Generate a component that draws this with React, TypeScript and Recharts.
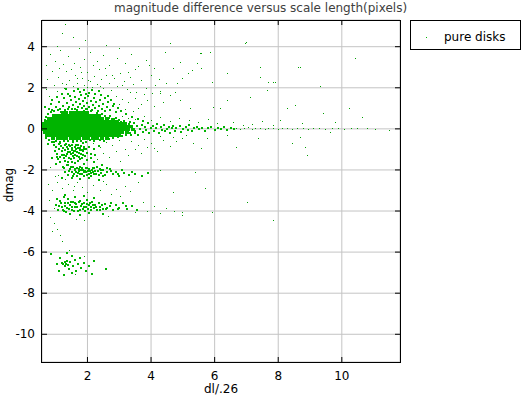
import { ScatterChart, Scatter, XAxis, YAxis, CartesianGrid, Label } from 'recharts';

// plot frame in pixels (layout only)
const PLOT_LEFT = 42;
const PLOT_TOP = 20;
const PLOT_RIGHT = 400;
const PLOT_BOTTOM = 362;

const X_DOMAIN: [number, number] = [0.57, 11.83];
const Y_DOMAIN: [number, number] = [-11.35, 5.3];
const X_TICKS = [2, 4, 6, 8, 10];
const Y_TICKS = [4, 2, 0, -2, -4, -6, -8, -10];

const GREEN = '#00b400';

// dense core near dmag = 0, read as rows
const coreRows: { y: number; xs: number[] }[] = [
  { y: 0.8, xs: [1.22, 1.34, 1.47, 1.6, 1.74, 1.86, 1.98] },
  { y: 0.66, xs: [0.96, 1.07, 1.19, 1.3, 1.41, 1.53, 1.64, 1.76, 1.88, 1.99, 2.11, 2.24, 2.36] },
  { y: 0.52, xs: [0.8, 0.9, 1.01, 1.12, 1.22, 1.33, 1.45, 1.56, 1.67, 1.78, 1.9, 2.01, 2.12, 2.24, 2.35, 2.47, 2.6] },
  { y: 0.38, xs: [0.7, 0.8, 0.9, 1.01, 1.12, 1.23, 1.34, 1.45, 1.56, 1.67, 1.78, 1.89, 2.0, 2.11, 2.22, 2.33, 2.44, 2.55, 2.67, 2.79, 2.92] },
  { y: 0.24, xs: [0.64, 0.74, 0.85, 0.96, 1.06, 1.17, 1.28, 1.39, 1.5, 1.61, 1.72, 1.83, 1.94, 2.05, 2.16, 2.27, 2.38, 2.49, 2.6, 2.71, 2.82, 2.94, 3.06, 3.18] },
  { y: 0.1, xs: [0.62, 0.72, 0.82, 0.93, 1.04, 1.15, 1.26, 1.37, 1.48, 1.59, 1.7, 1.81, 1.92, 2.03, 2.14, 2.25, 2.36, 2.47, 2.58, 2.69, 2.8, 2.91, 3.02, 3.13, 3.25, 3.38] },
  { y: -0.04, xs: [0.62, 0.72, 0.83, 0.94, 1.05, 1.16, 1.27, 1.38, 1.49, 1.6, 1.71, 1.82, 1.93, 2.04, 2.15, 2.26, 2.37, 2.48, 2.59, 2.7, 2.81, 2.92, 3.03, 3.15, 3.28, 3.42] },
  { y: -0.18, xs: [0.65, 0.75, 0.86, 0.97, 1.08, 1.19, 1.3, 1.41, 1.52, 1.63, 1.74, 1.85, 1.96, 2.07, 2.18, 2.29, 2.4, 2.51, 2.62, 2.73, 2.84, 2.96, 3.1, 3.24] },
  { y: -0.32, xs: [0.72, 0.83, 0.94, 1.05, 1.16, 1.27, 1.38, 1.49, 1.6, 1.71, 1.82, 1.93, 2.04, 2.15, 2.26, 2.37, 2.48, 2.6, 2.73, 2.86, 3.0] },
  { y: -0.46, xs: [0.92, 1.06, 1.2, 1.33, 1.47, 1.6, 1.74, 1.88, 2.02, 2.16, 2.3, 2.45, 2.6] },
];

// ragged edge of the core
const coreFringe: [number, number][] = [
  [0.75, 0.7], [0.85, 0.8], [0.95, 0.85], [1.08, 0.9], [1.18, 0.82], [2.1, 0.85], [2.3, 0.75], [2.45, 0.7],
  [2.55, 0.65], [2.68, 0.55], [2.78, 0.48], [2.9, 0.55], [3.05, 0.35], [3.2, 0.3], [3.35, 0.35], [0.7, 0.6],
  [0.65, 0.45], [1.38, 0.95], [1.62, 0.95], [1.9, 0.85], [2.0, 0.95], [0.78, 0.95], [0.68, 1.05], [0.9, 1.4],
  [1.05, 1.55], [1.2, 1.7], [1.32, 1.95], [1.45, 1.6], [1.7, 1.95], [1.95, 1.7], [2.15, 1.9], [2.35, 1.85],
  [2.55, 1.5], [2.65, 1.6], [2.75, 1.4], [2.85, 1.2], [2.95, 1.0], [3.05, 0.85], [3.2, 0.7], [3.4, 0.6],
  [3.6, 0.5], [3.75, 0.4], [0.7, -0.45], [0.8, -0.55], [0.88, -0.62], [1.0, -0.58], [1.13, -0.62], [1.27, -0.55],
  [1.4, -0.6], [1.53, -0.58], [1.67, -0.6], [1.81, -0.58], [1.95, -0.62], [2.08, -0.55], [2.22, -0.6], [2.38, -0.55],
  [2.52, -0.58], [2.68, -0.48], [2.8, -0.45], [2.95, -0.42], [3.1, -0.35], [3.22, -0.3], [3.38, -0.28], [3.5, -0.22],
  [0.75, -0.75], [0.95, -0.8], [1.1, -0.5],
];

const upperLobe: [number, number][] = [
  [1.15, 0.95], [1.22, 1.1], [1.3, 0.92], [1.35, 1.25], [1.42, 1.05], [1.48, 1.4], [1.52, 0.98], [1.56, 1.18],
  [1.6, 1.55], [1.63, 1.3], [1.67, 0.9], [1.7, 1.08], [1.73, 1.45], [1.76, 1.2], [1.8, 1.65], [1.83, 1.0],
  [1.86, 1.35], [1.9, 1.12], [1.93, 1.5], [1.96, 0.95], [2.0, 1.25], [2.03, 1.6], [2.06, 1.05], [2.1, 1.38],
  [2.13, 0.9], [2.16, 1.18], [2.2, 1.52], [2.24, 1.0], [2.28, 1.3], [2.32, 0.88], [2.36, 1.1], [2.4, 1.42],
  [2.45, 0.95], [2.5, 1.2], [2.55, 0.85], [2.6, 1.05], [2.66, 1.3], [2.72, 0.9], [2.8, 1.1], [2.9, 0.8],
  [1.25, 1.5], [1.4, 1.7], [1.58, 1.85], [1.75, 1.78], [1.88, 1.9], [2.05, 1.75], [2.25, 1.7], [2.42, 1.65],
  [1.1, 1.3], [1.0, 1.05], [0.9, 0.9], [0.85, 1.2], [2.7, 0.65], [2.85, 0.5], [3.0, 0.45], [3.15, 0.38],
];

const tail: [number, number][] = [
  [3.3, 0.25], [3.35, -0.2], [3.4, 0.05], [3.45, 0.3], [3.5, -0.1], [3.55, 0.15], [3.6, -0.3], [3.65, 0.0],
  [3.7, 0.2], [3.75, -0.15], [3.8, 0.1], [3.85, -0.05], [3.9, 0.28], [3.95, -0.22], [4.0, 0.05], [4.05, 0.15],
  [4.1, -0.1], [4.15, 0.02], [4.2, 0.22], [4.25, -0.18], [4.3, 0.08], [4.35, -0.05], [4.4, 0.18], [4.45, -0.12],
  [4.5, 0.0], [4.55, 0.1], [4.6, -0.2], [4.65, 0.05], [4.7, 0.15], [4.75, -0.08], [4.8, 0.02], [4.9, 0.12],
  [4.95, -0.15], [5.0, 0.0], [5.1, 0.08], [5.15, -0.05], [5.2, 0.18], [5.3, -0.1], [5.35, 0.02], [5.45, 0.1],
  [5.5, -0.02], [5.6, 0.06], [5.7, -0.12], [5.8, 0.02], [5.9, 0.1], [6.0, -0.04], [6.1, 0.04], [6.2, 0.0],
  [6.3, 0.08], [6.4, -0.06], [6.5, 0.02], [6.6, 0.0],
];

const lowerBranch: [number, number][] = [
  [0.95, -0.65], [1.0, -0.9], [1.05, -1.2], [1.1, -0.75], [1.12, -1.0], [1.15, -1.35], [1.18, -0.85], [1.2, -1.1],
  [1.23, -0.95], [1.25, -1.25], [1.28, -0.8], [1.3, -1.05], [1.33, -1.3], [1.35, -0.9], [1.38, -1.15], [1.4, -1.0],
  [1.42, -1.4], [1.45, -0.85], [1.48, -1.2], [1.5, -1.05], [1.52, -0.95], [1.55, -1.3], [1.58, -1.1], [1.6, -0.9],
  [1.62, -1.25], [1.65, -1.0], [1.68, -1.15], [1.7, -0.8], [1.72, -1.35], [1.75, -1.05], [1.78, -0.95], [1.8, -1.2],
  [1.83, -1.4], [1.85, -1.1], [1.88, -0.88], [1.92, -1.3], [1.95, -1.0], [2.0, -1.5], [1.3, -1.55], [1.5, -1.6],
  [1.7, -1.55], [1.15, -1.6], [0.9, -1.4], [1.0, -1.7], [1.25, -0.6], [1.55, -0.65], [1.85, -0.7], [2.1, -1.2],
  [2.2, -1.0], [1.08, -1.45], [1.14, -0.7], [1.19, -1.25], [1.26, -1.4], [1.32, -0.72], [1.36, -1.22], [1.41, -0.78],
  [1.44, -1.12], [1.47, -1.48], [1.51, -0.78], [1.54, -1.18], [1.57, -1.42], [1.61, -1.08], [1.64, -0.78], [1.66, -1.32],
  [1.69, -0.95], [1.73, -1.18], [1.77, -1.45], [1.79, -0.82], [1.82, -1.02], [1.87, -1.25], [1.9, -0.98], [1.97, -1.18],
  [2.05, -0.9], [2.12, -1.4], [2.25, -1.25], [2.35, -0.85], [0.98, -1.1], [1.03, -1.35], [1.22, -1.85], [1.4, -1.75],
];

const bandMinus2: [number, number][] = [
  [1.25, -1.9], [1.3, -2.1], [1.35, -1.75], [1.4, -2.25], [1.45, -1.95], [1.5, -2.1], [1.55, -1.85], [1.58, -2.2],
  [1.62, -2.0], [1.66, -1.9], [1.7, -2.15], [1.74, -2.05], [1.78, -1.88], [1.82, -2.2], [1.86, -2.0], [1.9, -2.1],
  [1.94, -1.92], [1.98, -2.25], [2.02, -2.05], [2.06, -1.95], [2.1, -2.15], [2.14, -2.0], [2.18, -2.1], [2.22, -1.9],
  [2.27, -2.2], [2.32, -2.05], [2.38, -1.95], [2.44, -2.15], [2.5, -2.02], [2.56, -2.25], [2.62, -2.1], [2.7, -1.95],
  [2.8, -2.2], [2.9, -2.1], [3.0, -2.3], [3.15, -2.15], [3.3, -2.25], [3.5, -2.2], [3.7, -2.3], [3.9, -2.15],
  [1.6, -1.65], [1.9, -1.7], [2.2, -1.6], [2.45, -1.75], [1.5, -2.4], [1.75, -2.45], [2.05, -2.4], [2.35, -2.5],
  [1.42, -2.05], [1.48, -1.88], [1.53, -2.28], [1.6, -1.95], [1.64, -2.12], [1.68, -2.3], [1.72, -1.95], [1.76, -2.2],
  [1.8, -2.02], [1.84, -1.9], [1.88, -2.28], [1.92, -2.05], [1.96, -2.12], [2.0, -1.9], [2.04, -2.18], [2.08, -2.05],
  [2.12, -2.28], [2.16, -1.92], [2.2, -2.2], [2.25, -2.05], [2.3, -1.85], [2.35, -2.25], [2.42, -2.02], [2.48, -2.3],
  [2.6, -1.9], [2.75, -2.05], [2.95, -2.2], [3.1, -2.0], [3.4, -2.1], [1.38, -1.6], [1.2, -2.4],
];

const bandMinus4: [number, number][] = [
  [1.0, -3.7], [1.08, -3.95], [1.15, -3.5], [1.2, -3.8], [1.25, -4.0], [1.3, -3.6], [1.35, -3.85], [1.4, -3.4],
  [1.45, -3.7], [1.5, -3.95], [1.55, -3.55], [1.6, -3.8], [1.65, -3.65], [1.7, -4.02], [1.75, -3.5], [1.8, -3.75],
  [1.85, -3.9], [1.9, -3.6], [1.95, -3.8], [2.0, -3.45], [2.05, -3.7], [2.1, -3.95], [2.15, -3.55], [2.2, -3.85],
  [2.25, -3.7], [2.3, -3.95], [2.35, -3.6], [2.4, -3.8], [2.48, -3.9], [2.55, -3.65], [2.62, -3.85], [2.7, -3.75],
  [2.8, -3.95], [2.9, -3.7], [3.0, -3.85], [3.12, -3.6], [3.25, -3.9], [3.4, -3.75], [3.55, -3.95], [1.3, -3.2],
  [1.6, -3.3], [1.9, -3.25], [2.2, -3.35], [1.45, -4.15], [1.75, -4.2], [2.05, -4.1], [2.5, -4.15],
  [1.12, -3.75], [1.18, -3.6], [1.22, -3.95], [1.28, -3.75], [1.33, -4.05], [1.38, -3.6], [1.42, -3.9], [1.48, -3.55],
  [1.52, -3.8], [1.58, -4.0], [1.62, -3.6], [1.68, -3.8], [1.72, -3.55], [1.78, -3.95], [1.82, -3.65], [1.88, -3.8],
  [1.92, -4.0], [1.98, -3.65], [2.02, -3.9], [2.08, -3.6], [2.12, -3.8], [2.18, -3.7], [2.28, -3.8], [2.38, -3.95],
  [2.45, -3.7], [2.58, -3.9], [2.75, -3.6], [2.95, -3.9], [3.2, -3.75], [1.05, -3.4], [1.25, -3.3],
];

const clusterMinus66: [number, number][] = [
  [1.05, -6.6], [1.1, -6.9], [1.15, -6.3], [1.2, -6.55], [1.24, -6.6], [1.28, -6.5], [1.3, -6.7], [1.33, -6.58],
  [1.36, -6.45], [1.4, -6.62], [1.42, -6.8], [1.46, -6.5], [1.5, -6.2], [1.55, -6.7], [1.6, -6.4], [1.65, -6.9],
  [1.7, -6.6], [1.75, -6.3], [1.8, -6.75], [1.88, -6.55], [1.95, -6.9], [2.05, -6.7], [2.15, -7.05], [2.2, -6.45],
  [1.35, -6.05], [1.5, -7.0], [1.25, -7.1], [2.59, -6.8], [0.85, -6.1],
];

// isolated points scattered over the plot
const scatterUp: [number, number][] = [
  [0.8, 1.6], [0.95, 2.1], [1.05, 1.8], [1.1, 2.5], [1.2, 2.2], [1.28, 1.95], [1.35, 2.8], [1.45, 2.35],
  [1.55, 2.05], [1.62, 2.6], [1.7, 2.2], [1.78, 3.0], [1.85, 2.45], [1.92, 2.1], [2.0, 2.75], [2.08, 2.3],
  [2.15, 2.0], [2.22, 2.55], [2.3, 2.15], [2.38, 2.9], [2.45, 2.4], [2.52, 1.95], [2.6, 2.6], [2.68, 2.2],
  [2.75, 1.85], [2.85, 2.45], [2.95, 2.05], [3.05, 2.7], [3.15, 2.3], [3.25, 1.9], [3.35, 2.5], [3.45, 2.15],
  [3.55, 1.75], [3.7, 2.35], [3.85, 1.95], [4.0, 2.6], [4.15, 2.1], [4.3, 1.8], [2.9, 1.6], [3.1, 1.45],
  [3.3, 1.3], [3.5, 1.5], [3.7, 1.2], [3.9, 1.4], [4.1, 1.1], [4.4, 1.3], [3.0, 1.2], [3.2, 0.95],
  [3.45, 0.85], [3.6, 1.0], [1.3, 5.08], [1.2, 4.64], [1.93, 4.3], [1.55, 4.45], [1.0, 3.3], [1.15, 3.8],
  [1.4, 3.5], [1.6, 3.2], [1.75, 3.9], [1.9, 3.4], [2.1, 3.7], [2.3, 3.3], [2.5, 3.55], [2.7, 3.1],
  [2.95, 3.45], [3.2, 3.2], [3.4, 3.6], [3.6, 3.05], [3.85, 3.35], [4.1, 2.95], [4.6, 4.15], [4.44, 3.72],
  [4.92, 3.24], [4.7, 2.95], [5.45, 3.19], [5.29, 2.85], [5.17, 2.7], [5.6, 3.67], [5.86, 3.72], [5.6, 2.95],
  [4.98, 2.46], [4.82, 2.22], [5.92, 2.27], [6.42, 2.7], [6.96, 4.15], [7.43, 3.0], [7.43, 2.5], [7.68, 2.27],
  [7.84, 2.27], [8.63, 3.0], [7.65, 1.88], [7.12, 1.53], [6.42, 1.39], [6.17, 1.0], [5.95, 1.05], [5.23, 1.0],
  [8.28, 1.0], [8.53, 1.15], [4.92, 1.39], [4.76, 1.78], [4.6, 1.63], [4.29, 1.73], [10.42, 3.43], [8.69, 3.0],
  [7.9, 2.27], [9.32, 2.07], [10.23, 1.0], [10.64, 0.56], [9.42, 0.76], [9.79, 0.33], [8.06, 0.42], [8.75, 0.27],
  [7.0, 4.2], [5.54, 3.67], [1.05, 4.0], [0.9, 2.8], [0.75, 2.4], [2.6, 4.05], [3.0, 3.9],
  [0.7, 1.9], [0.72, 3.1], [0.85, 3.6], [1.12, 2.95], [1.25, 3.15], [1.5, 2.9], [1.68, 2.45], [1.82, 2.75],
  [2.02, 2.35], [2.18, 3.1], [2.42, 2.05], [2.58, 2.95], [2.8, 2.6], [3.1, 2.1], [3.3, 2.75], [3.5, 2.9],
  [3.95, 3.1], [4.25, 2.4], [4.5, 2.2], [4.05, 1.7], [3.8, 1.65], [3.35, 1.75], [2.0, 2.0], [1.35, 2.15],
];

const scatterMid: [number, number][] = [
  [2.2, -0.7], [2.4, -0.9], [2.6, -0.65], [2.8, -0.8], [3.0, -0.55], [3.2, -1.0], [3.4, -0.6], [3.6, -0.8],
  [3.8, -0.5], [4.0, -0.7], [4.2, -1.1], [4.4, -0.55], [4.6, -0.85], [4.8, -0.6], [5.0, -0.45], [2.5, -1.2],
  [2.9, -1.1], [3.3, -1.3], [3.7, -1.2], [4.1, -0.95], [5.76, -0.45], [5.33, -0.7], [5.6, -0.94], [6.42, -0.31],
  [6.7, -0.89], [7.37, -0.45], [8.44, -0.7], [8.85, -0.89], [8.91, -1.28], [8.69, -0.4], [9.63, -0.16], [3.1, 0.6],
  [3.3, 0.5], [3.5, 0.45], [3.8, 0.6], [4.0, 0.4], [4.3, 0.55], [4.6, 0.35], [4.9, 0.5], [5.2, 0.4],
  [5.5, 0.3], [5.8, 0.45], [6.1, 0.25], [6.6, 0.3], [6.9, 0.15], [7.2, 0.2], [7.5, 0.35], [7.84, 0.18],
  [6.7, 0.02], [6.8, -0.05], [6.95, 0.0], [7.05, 0.06], [7.2, -0.02], [7.3, 0.0], [7.45, 0.04], [7.6, -0.03],
  [7.7, 0.0], [7.85, 0.02], [8.0, -0.04], [8.15, 0.0], [8.3, 0.03], [8.45, -0.02], [8.6, 0.0], [8.8, 0.02],
  [8.95, -0.03], [9.1, 0.0], [9.3, 0.02], [9.5, -0.02], [9.7, 0.0], [9.9, 0.03], [10.1, -0.02], [10.3, 0.0],
  [10.5, 0.02], [10.8, 0.0], [11.05, -0.02], [11.5, -0.06],
  [2.3, -1.5], [2.7, -1.4], [3.05, -1.6], [3.5, -1.0], [3.9, -0.9], [4.3, -0.35], [4.7, -0.4], [5.1, -0.3],
];

const scatterDown: [number, number][] = [
  [1.05, -2.6], [1.2, -2.9], [1.4, -2.7], [1.55, -3.0], [1.7, -2.6], [1.85, -2.85], [2.0, -3.1], [2.2, -2.75],
  [2.4, -3.0], [2.6, -2.7], [2.9, -2.95], [3.2, -2.8], [0.9, -3.0], [1.1, -2.25], [0.85, -1.9], [1.0, -2.3],
  [4.29, -2.01], [5.39, -2.11], [5.7, -2.89], [4.7, -3.08], [3.6, -2.6], [3.75, -3.6], [3.9, -4.0], [4.1, -3.8],
  [4.3, -4.1], [4.5, -3.9], [4.75, -4.0], [5.0, -4.2], [4.98, -4.05], [5.92, -4.05], [7.02, -3.57], [7.84, -4.45],
  [0.83, -4.3], [0.95, -4.6], [1.05, -4.9], [1.15, -5.2], [1.2, -5.5], [0.9, -5.0],
  [0.78, -2.7], [0.8, -3.5], [0.95, -3.9], [1.3, -2.45], [1.6, -2.8], [2.5, -2.55], [2.75, -3.2], [3.05, -3.3],
  [3.35, -3.05], [2.65, -4.25], [3.5, -4.05], [1.65, -4.4], [1.9, -4.45], [1.45, -5.9], [1.9, -6.2], [1.62, -7.1],
];

const toPoints = (arr: [number, number][]) => arr.map(([x, y]) => ({ x, y }));
const corePoints = coreRows.flatMap((r) => r.xs.map((x) => ({ x, y: r.y })));
const densePoints = toPoints([
  ...coreFringe,
  ...upperLobe,
  ...tail,
  ...lowerBranch,
  ...bandMinus2,
  ...bandMinus4,
  ...clusterMinus66,
]);
const sparsePoints = toPoints([...scatterUp, ...scatterMid, ...scatterDown]);

function dot(w: number, h: number, fill: string) {
  return (props: any) => (
    <rect x={props.cx - w / 2} y={props.cy - h / 2} width={w} height={h} fill={fill} shapeRendering="crispEdges" />
  );
}

function XTick({ x, y, payload }: any) {
  return (
    <g>
      <line x1={x} y1={y} x2={x} y2={y - 5} stroke="#000" />
      <line x1={x} y1={PLOT_TOP} x2={x} y2={PLOT_TOP + 5} stroke="#000" />
      <text x={x} y={y + 18} textAnchor="middle" fontSize={12} fill="#000">{payload.value}</text>
    </g>
  );
}

function YTick({ x, y, payload }: any) {
  return (
    <g>
      <line x1={x} y1={y} x2={x + 5} y2={y} stroke="#000" />
      <line x1={PLOT_RIGHT} y1={y} x2={PLOT_RIGHT - 5} y2={y} stroke="#000" />
      <text x={x - 7} y={y + 4} textAnchor="end" fontSize={12} fill="#000">{payload.value}</text>
    </g>
  );
}

export default function App() {
  return (
    <div style={{ position: 'absolute', left: 0, top: 0, width: 521, height: 400, background: '#fff', fontFamily: 'DejaVu Sans' }}>
      <div style={{ position: 'absolute', left: 0, top: 1, width: 521, textAlign: 'center', fontSize: 12, color: '#404040' }}>
        magnitude difference versus scale length(pixels)
      </div>
      <ScatterChart width={521} height={400} margin={{ top: PLOT_TOP, right: 521 - PLOT_RIGHT, bottom: 0, left: 0 }}>
        <CartesianGrid stroke="#c4c4c4" />
        <XAxis
          type="number"
          dataKey="x"
          domain={X_DOMAIN}
          ticks={X_TICKS}
          interval={0}
          allowDataOverflow
          height={400 - PLOT_BOTTOM}
          tickSize={0}
          tickMargin={0}
          tickLine={false}
          axisLine={false}
          tick={<XTick />}
        >
          <Label
            content={({ viewBox }: any) => (
              <text x={viewBox.x + viewBox.width / 2} y={393} textAnchor="middle" fontSize={12} fill="#000">dl/.26</text>
            )}
          />
        </XAxis>
        <YAxis
          type="number"
          dataKey="y"
          domain={Y_DOMAIN}
          ticks={Y_TICKS}
          interval={0}
          allowDataOverflow
          width={PLOT_LEFT}
          tickSize={0}
          tickMargin={0}
          tickLine={false}
          axisLine={false}
          tick={<YTick />}
        >
          <Label
            content={() => (
              <text x={12.5} y={185} transform="rotate(-90 12.5 185)" textAnchor="middle" fontSize={12} fill="#000">dmag</text>
            )}
          />
        </YAxis>
        <Scatter data={sparsePoints} fill={GREEN} shape={dot(1, 1, '#00a000')} isAnimationActive={false} />
        <Scatter data={densePoints} fill={GREEN} shape={dot(2, 2, GREEN)} isAnimationActive={false} />
        <Scatter data={corePoints} fill={GREEN} shape={dot(4, 3, GREEN)} isAnimationActive={false} />
      </ScatterChart>
      <div
        style={{
          position: 'absolute',
          left: 41,
          top: 20,
          width: 360,
          height: 343,
          boxSizing: 'border-box',
          border: '1px solid #000',
          pointerEvents: 'none',
        }}
      />
      <div
        style={{
          position: 'absolute',
          left: 410,
          top: 20,
          width: 111,
          height: 30,
          boxSizing: 'border-box',
          border: '1px solid #000',
          fontSize: 12,
          color: '#000',
        }}
      >
        <span style={{ position: 'absolute', left: 15, top: 16, width: 1, height: 1, background: GREEN }} />
        <span style={{ position: 'absolute', left: 33, top: 9, lineHeight: 'normal', whiteSpace: 'nowrap' }}>pure disks</span>
      </div>
    </div>
  );
}
